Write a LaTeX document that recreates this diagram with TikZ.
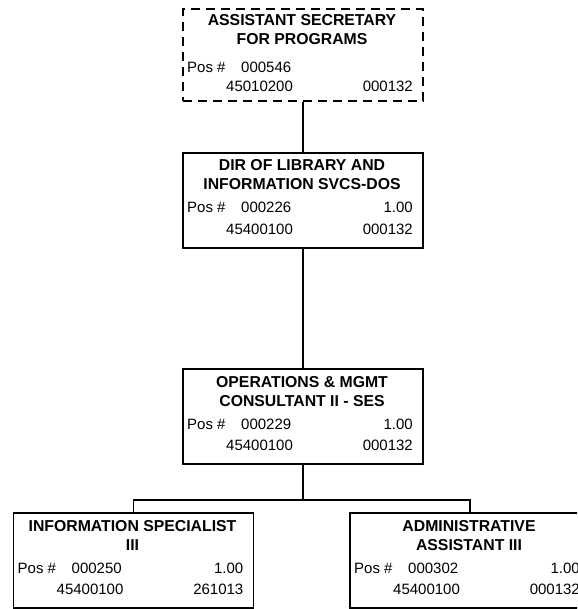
\documentclass[tikz,border=0pt]{standalone}
\usepackage{fontspec}
\setmainfont{Liberation Sans}
\tikzset{
  box/.style={draw, line width=1.7pt, minimum width=240pt, minimum height=95pt,
              inner sep=0pt, anchor=north west},
  dbox/.style={box, dash pattern=on 9pt off 6pt, minimum height=92pt},
  ttl/.style={font=\fontsize{15.8}{18}\selectfont\bfseries, anchor=base, inner sep=0pt},
  lbl/.style={font=\fontsize{15}{18}\selectfont, inner sep=0pt},
  wire/.style={line width=1.7pt}
}
% text of a standard position box, in box-relative coordinates
\newcommand\orgtext[7]{%
  \node[ttl] (#1-t1) at (120,19) {#2};
  \node[ttl] (#1-t2) at (120,38) {#3};
  \node[lbl, anchor=base west] (#1-p) at (5,61) {Pos \#};
  \node[lbl, anchor=base west] (#1-n) at (59,61) {#4};
  \node[lbl, anchor=base east] (#1-f) at (231,61) {#5};
  \node[lbl, anchor=base west] (#1-b) at (44,82) {#6};
  \node[lbl, anchor=base east] (#1-c) at (231,82) {#7};
}
\begin{document}
\begin{tikzpicture}[x=1pt, y=-1pt]
  \path[use as bounding box, clip] (0,0) rectangle (577,609);

  % top (dashed) position
  \begin{scope}[shift={(182,8)}]
    \node[dbox] (A) at (0,0) {};
    \node[ttl] (A-t1) at (120,18) {ASSISTANT SECRETARY};
    \node[ttl] (A-t2) at (120,37) {FOR PROGRAMS};
    \node[lbl, anchor=base west] (A-p) at (5,65) {Pos \#};
    \node[lbl, anchor=base west] (A-n) at (59,65) {000546};
    \node[lbl, anchor=base west] (A-b) at (44,84) {45010200};
    \node[lbl, anchor=base east] (A-c) at (231,84) {000132};
  \end{scope}

  \begin{scope}[shift={(182,152)}]
    \node[box] (B) at (0,0) {};
    \orgtext{B}{DIR OF LIBRARY AND}{INFORMATION SVCS-DOS}{000226}{1.00}{45400100}{000132}
  \end{scope}

  \begin{scope}[shift={(182,368)}]
    \node[box] (C) at (0,0) {};
    \orgtext{C}{OPERATIONS \& MGMT}{CONSULTANT II - SES}{000229}{1.00}{45400100}{000132}
  \end{scope}

  \begin{scope}[shift={(12.5,512)}]
    \node[box] (D) at (0,0) {};
    \orgtext{D}{INFORMATION SPECIALIST}{III}{000250}{1.00}{45400100}{261013}
  \end{scope}

  \begin{scope}[shift={(349,512)}]
    \node[box] (E) at (0,0) {};
    \orgtext{E}{ADMINISTRATIVE}{ASSISTANT III}{000302}{1.00}{45400100}{000132}
  \end{scope}

  % reporting lines
  \coordinate (j) at (C.south |- 0,500);
  \draw[wire] (A.south) -- (B.north);
  \draw[wire] (B.south) -- (C.north);
  \draw[wire] (C.south) -- (j);
  \draw[wire] (D.north) |- (j) -| (E.north);
\end{tikzpicture}
\end{document}
